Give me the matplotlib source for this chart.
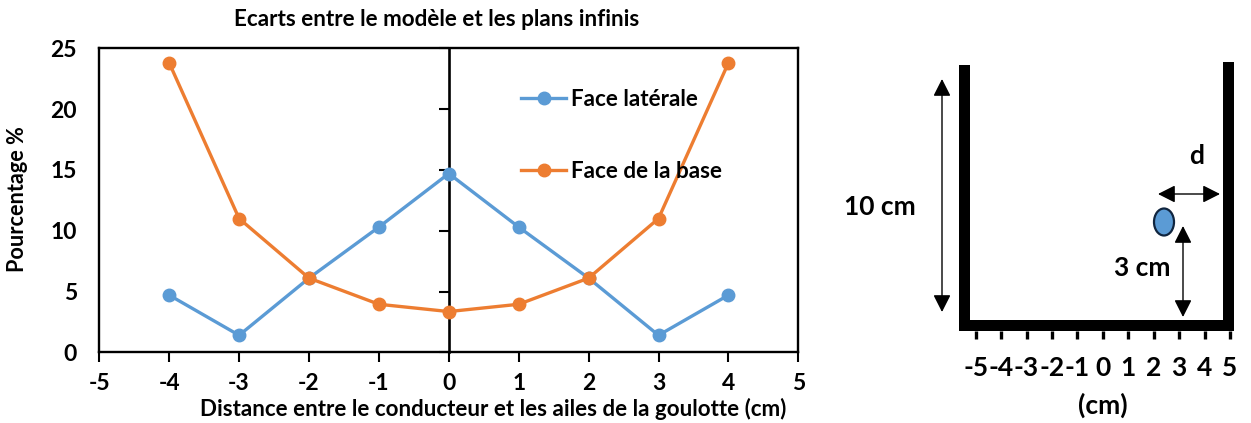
import matplotlib
matplotlib.use("Agg")
import matplotlib.pyplot as plt
from matplotlib.patches import Ellipse, FancyArrowPatch, Rectangle

plt.rcParams['font.family'] = ['Lato', 'DejaVu Sans']
plt.rcParams['axes.unicode_minus'] = False

# data
distance = [-4, -3, -2, -1, 0, 1, 2, 3, 4]
face_laterale = [4.7, 1.4, 6.1, 10.3, 14.7, 10.3, 6.1, 1.4, 4.7]
face_base = [23.8, 11.0, 6.1, 3.95, 3.35, 3.95, 6.1, 11.0, 23.8]
x_ticks = [-5, -4, -3, -2, -1, 0, 1, 2, 3, 4, 5]
y_ticks = [0, 5, 10, 15, 20, 25]
cm_labels = ['-5', '-4', '-3', '-2', '-1', '0', '1', '2', '3', '4', '5']

W, H = 1251, 423
BLUE = '#5b9bd5'
ORANGE = '#ed7d31'

fig = plt.figure(figsize=(W / 100, H / 100), dpi=100)

# left chart
ax = fig.add_axes([99.3 / W, 1 - 352.3 / H, 699 / W, 304 / H])
ax.plot(distance, face_laterale, '-o', color=BLUE, lw=2.4, ms=9, label='Face latérale', clip_on=False)
ax.plot(distance, face_base, '-o', color=ORANGE, lw=2.4, ms=9, label='Face de la base', clip_on=False)
ax.set_xlim(-5, 5)
ax.set_ylim(0, 25)
ax.set_xticks(x_ticks)
ax.set_yticks(y_ticks)
ax.tick_params(axis='x', length=7, width=1.5, pad=8, labelsize=16.5)
ax.tick_params(axis='y', length=0, pad=16, labelsize=16.5)
for lab in ax.get_xticklabels() + ax.get_yticklabels():
    lab.set_fontweight('bold')
for s in ax.spines.values():
    s.set_linewidth(1.7)

# the y axis crosses at x=0, ticks are drawn there
mid = ax.secondary_yaxis(0.4999)
mid.set_yticks(y_ticks)
mid.set_yticklabels([])
mid.tick_params(axis='y', direction='out', length=7, width=1.5)
mid.spines['left'].set_visible(True)
mid.spines['left'].set_linewidth(1.9)
mid.set_zorder(1)

fig.text(437 / W, 1 - 19 / H, 'Ecarts entre le modèle et les plans infinis',
         ha='center', va='center', fontsize=16.2, fontweight='bold')
fig.text(493 / W, 1 - 409 / H, 'Distance entre le conducteur et les ailes de la goulotte (cm)',
         ha='center', va='center', fontsize=16.1, fontweight='bold')
fig.text(18 / W, 1 - 199 / H, 'Pourcentage %', rotation=90,
         ha='center', va='center', fontsize=15.6, fontweight='bold')

leg = ax.legend(loc='upper left', bbox_to_anchor=(0.604, 0.866), frameon=False,
                fontsize=16.2, labelspacing=2.28, handlelength=1.98, handletextpad=0.2,
                borderpad=0, borderaxespad=0)
for t in leg.get_texts():
    t.set_fontweight('bold')

# right sketch, in picture pixels
sk = fig.add_axes([0, 0, 1, 1], facecolor='none')
sk.set_xlim(0, W)
sk.set_ylim(H, 0)
sk.axis('off')

sk.add_patch(Rectangle((959, 65), 11, 266, color='black', lw=0))
sk.add_patch(Rectangle((1223, 62), 11, 269, color='black', lw=0))
sk.add_patch(Rectangle((959, 320), 275, 11, color='black', lw=0))

for i, lab in enumerate(cm_labels):
    tx = 975.7 + i * 25.43
    sk.plot([tx, tx], [331, 339], color='black', lw=2.4, solid_capstyle='butt')
    sk.text(tx, 368, lab, ha='center', va='center', fontsize=19, fontweight='bold')

sk.text(1103, 405, '(cm)', ha='center', va='center', fontsize=19, fontweight='bold')
sk.text(880, 207, '10 cm', ha='center', va='center', fontsize=19, fontweight='bold')
sk.text(1142, 268, '3 cm', ha='center', va='center', fontsize=19, fontweight='bold')
sk.text(1197, 156, 'd', ha='center', va='center', fontsize=19, fontweight='bold')

style = '<|-|>,head_length=0.75,head_width=0.38'
for start, end in [((942, 79), (942, 312)), ((1183, 226), (1183, 317)), ((1158, 194), (1220, 194))]:
    sk.add_patch(FancyArrowPatch(start, end, arrowstyle=style, mutation_scale=14,
                                 shrinkA=0, shrinkB=0, color='black', lw=1))

sk.add_patch(Ellipse((1164, 222), 20, 27, facecolor=BLUE, edgecolor='#10253f', lw=1.6))

fig.savefig('out.png', dpi=100)
